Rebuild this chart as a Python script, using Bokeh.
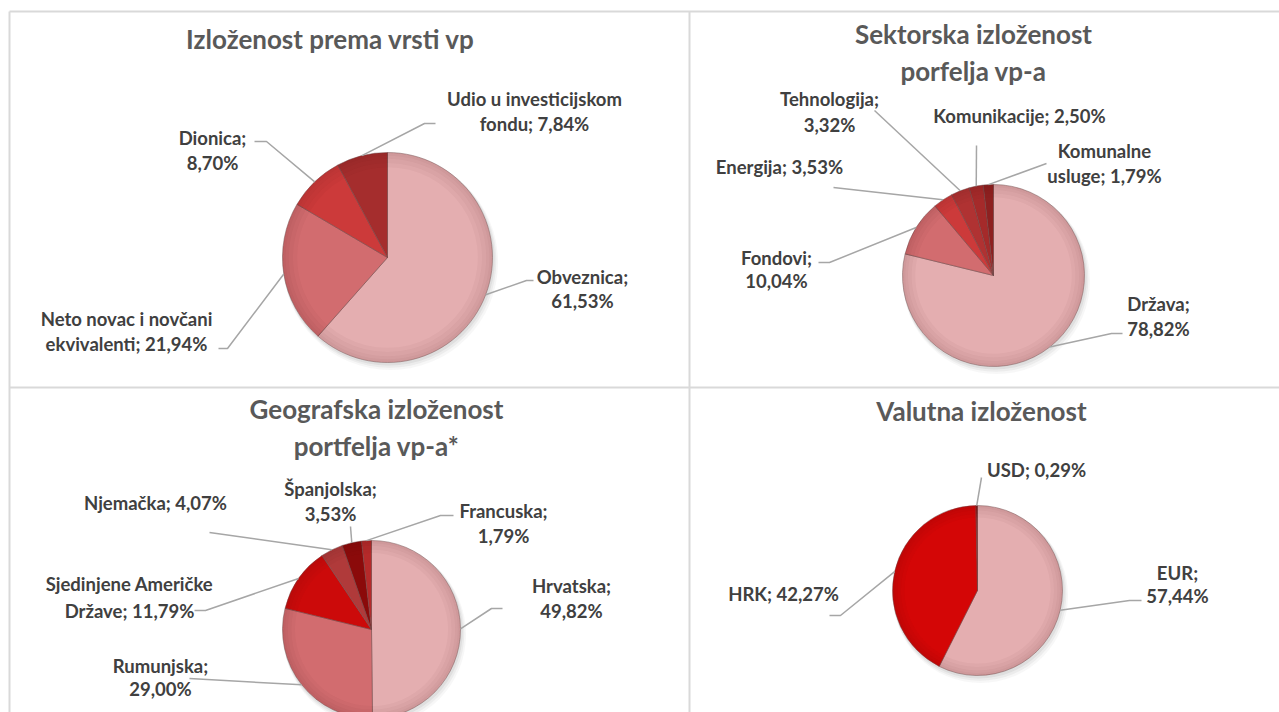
import numpy as np
from bokeh.plotting import figure
from bokeh.models import Range1d, ColumnDataSource
from bokeh.core.properties import value
from bokeh.embed import file_html
from bokeh.resources import INLINE

# ---------------- data ----------------
vrsta_labels = ["Obveznica", "Neto novac i novčani ekvivalenti", "Dionica", "Udio u investicijskom fondu"]
vrsta_values = [61.53, 21.94, 8.70, 7.84]

sektor_labels = ["Država", "Fondovi", "Energija", "Tehnologija", "Komunikacije", "Komunalne usluge"]
sektor_values = [78.82, 10.04, 3.53, 3.32, 2.50, 1.79]

geo_labels = ["Hrvatska", "Rumunjska", "Sjedinjene Američke Države", "Njemačka", "Španjolska", "Francuska"]
geo_values = [49.82, 29.00, 11.79, 4.07, 3.53, 1.79]

valuta_labels = ["EUR", "HRK", "USD"]
valuta_values = [57.44, 42.27, 0.29]

titles = [["Izloženost prema vrsti vp"],
          ["Sektorska izloženost", "porfelja vp-a"],
          ["Geografska izloženost", "portfelja vp-a*"],
          ["Valutna izloženost"]]

# ---------------- styles / layout ----------------
vrsta_colors = ["#e4aeb0", "#d26c6f", "#cc3a3a", "#a52d2d"]
sektor_colors = ["#e4aeb0", "#d26c6f", "#cc3a3a", "#b03232", "#a52a2a", "#8e2020"]
geo_colors = ["#e4aeb0", "#d26c6f", "#cc0a0a", "#b03a3a", "#8b0a0a", "#b52a2a"]
valuta_colors = ["#e4aeb0", "#d40606", "#8b0a0a"]

W, H = 1279, 712
OFF = 712  # data y = OFF - screen y

def Y(v):
    return OFF - v

FONT = value("Lato")
TITLE_COLOR = "#595959"
LABEL_COLOR = "#404040"
LEADER_COLOR = "#a6a6a6"
BORDER_COLOR = "#d9d9d9"

p = figure(width=W, height=H, x_range=Range1d(0, W), y_range=Range1d(OFF - H, OFF),
           output_backend="svg", toolbar_location=None, min_border=0,
           x_axis_location=None, y_axis_location=None)
p.grid.visible = False
p.outline_line_color = None
p.background_fill_color = "white"
p.border_fill_color = "white"

# panel borders
p.segment(x0=[9, 9, 689, 9], y0=[Y(11), Y(11), Y(11), Y(387)],
          x1=[1279, 9, 689, 1279], y1=[Y(11), Y(720), Y(720), Y(387)],
          line_color=BORDER_COLOR, line_width=2)


def fmt(v):
    return f"{v:.2f}".replace(".", ",") + "%"


def draw_pie(labels, values, colors, cx, cy, r, title_lines, title_x, title_ys, layout):
    vals = np.array(values, dtype=float)
    frac = vals / vals.sum()
    cum = np.concatenate([[0.0], np.cumsum(frac)])
    start = np.pi / 2 - 2 * np.pi * cum[1:]
    end = np.pi / 2 - 2 * np.pi * cum[:-1]
    mid = np.pi / 2 - 2 * np.pi * (cum[:-1] + cum[1:]) / 2
    src = ColumnDataSource(dict(start=start, end=end, color=colors))
    # soft shadow
    for k, a in [(5, 0.06), (3.5, 0.08), (2, 0.10)]:
        p.circle(x=cx + k * 0.6, y=Y(cy) - k, radius=r + k * 0.5, fill_color="#707070",
                 fill_alpha=a, line_color=None)
    p.wedge(x=cx, y=Y(cy), radius=r, start_angle="start", end_angle="end",
            fill_color="color", line_color="#6e4a4a", line_alpha=0.5, line_width=1, source=src)
    # bevel hint: gradually darker toward the rim
    for f in [0.86, 0.90, 0.94, 0.97]:
        p.annular_wedge(x=cx, y=Y(cy), inner_radius=r * f, outer_radius=r - 0.5, start_angle="start",
                        end_angle="end", fill_color="#4a1515", fill_alpha=0.035, line_color=None,
                        source=src)

    # title
    p.text(x=[title_x] * len(title_lines), y=[Y(t) for t in title_ys], text=title_lines,
           text_font=FONT, text_font_style="bold", text_font_size="26px", text_color=TITLE_COLOR,
           text_align="center", text_baseline="middle")

    tx, ty, tt = [], [], []
    lx, ly = [], []
    for i, (lab, v) in enumerate(zip(labels, values)):
        (lxc, ys, nfirst, path) = layout[i]
        words = f"{lab}; {fmt(v)}".split(" ")
        lines = [" ".join(words)] if nfirst == 0 else [" ".join(words[:nfirst]), " ".join(words[nfirst:])]
        for ln, yy in zip(lines, ys):
            tx.append(lxc)
            ty.append(Y(yy))
            tt.append(ln)
        ex = cx + r * np.cos(mid[i])
        ey = Y(cy) + r * np.sin(mid[i])
        xs = [ex] + [pt[0] for pt in path]
        yv = [ey] + [Y(pt[1]) for pt in path]
        lx.append(xs)
        ly.append(yv)
    p.multi_line(xs=lx, ys=ly, line_color=LEADER_COLOR, line_width=1.5)
    p.text(x=tx, y=ty, text=tt, text_font=FONT, text_font_style="bold", text_font_size="18.5px",
           text_color=LABEL_COLOR, text_align="center", text_baseline="middle")


# label layout: (center x, line ys, words on first line (0 = single line), leader path from pie edge)
draw_pie(vrsta_labels, vrsta_values, vrsta_colors, 387, 257, 105,
         titles[0], 330, [38],
         [(582, [276, 300], 1, [(526, 280), (533, 280)]),
          (126, [318, 343], 4, [(227, 348), (218, 348)]),
          (212, [137, 162], 1, [(266, 141), (254, 141)]),
          (534, [98, 123], 3, [(424, 123), (435, 123)])])

draw_pie(sektor_labels, sektor_values, sektor_colors, 993, 275, 91,
         titles[1], 973, [33, 70],
         [(1158, [303, 328], 1, [(1111, 333), (1122, 333)]),
          (776, [257, 280], 1, [(829, 262), (818, 262)]),
          (779, [166], 0, [(833, 187)]),
          (829, [98, 124], 1, [(874, 110)]),
          (1019, [115], 0, [(976, 145)]),
          (1104, [150, 175], 1, [(1046, 163)])])

draw_pie(geo_labels, geo_values, geo_colors, 371, 629, 89,
         titles[2], 376, [408, 445],
         [(571, [585, 610], 1, [(491, 608), (502, 608)]),
          (160, [665, 688], 1, [(189, 678)]),
          (129, [583, 610], 2, [(205, 610), (194, 610)]),
          (155, [502], 0, [(209, 532)]),
          (330, [488, 513], 1, [(350, 526)]),
          (503, [510, 535], 1, [(440, 515), (453, 515)])])

draw_pie(valuta_labels, valuta_values, valuta_colors, 977, 590, 85,
         titles[3], 981, [410],
         [(1177, [572, 595], 1, [(1129, 600), (1141, 600)]),
          (783, [593], 0, [(840, 615), (829, 615)]),
          (1036, [469], 0, [(981, 477)])])

open("out.html", "w").write(file_html(p, INLINE))
